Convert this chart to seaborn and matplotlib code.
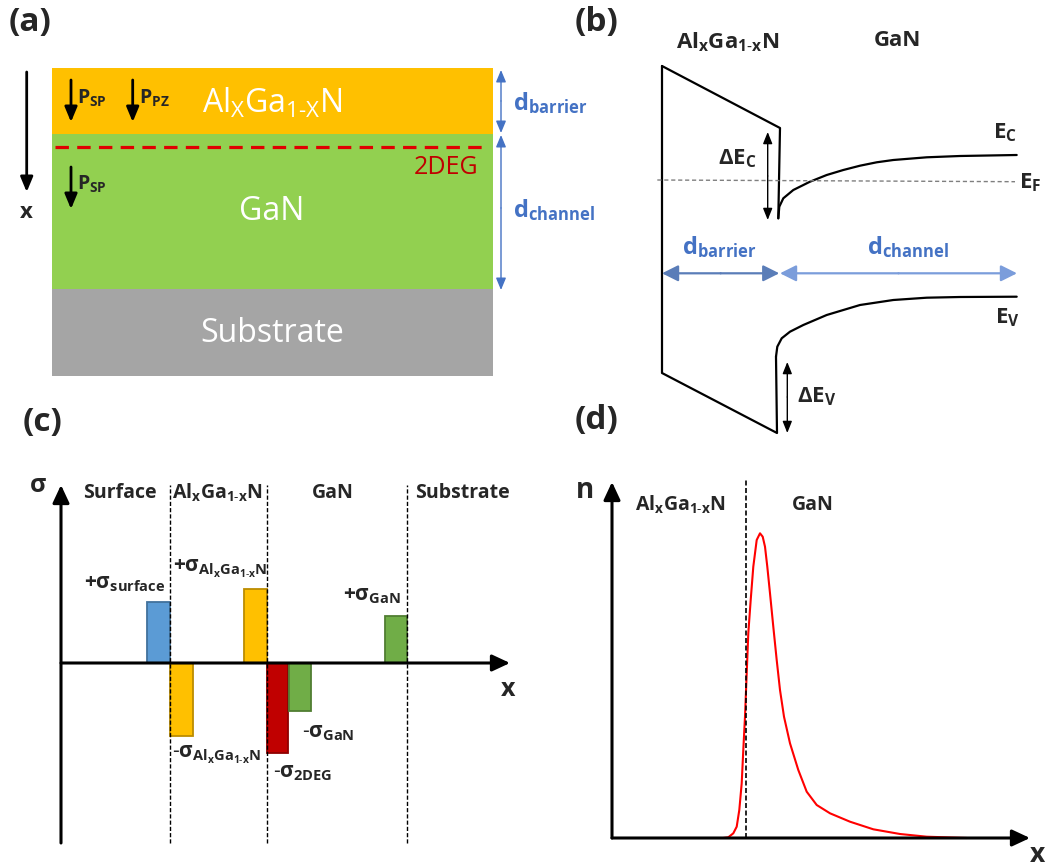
import matplotlib
matplotlib.use('Agg')
import matplotlib.pyplot as plt
import seaborn as sns

sns.set_style('white')
plt.rcParams['font.family'] = ['Open Sans', 'DejaVu Sans']
plt.rcParams['mathtext.fontset'] = 'custom'
plt.rcParams['mathtext.rm'] = 'Open Sans'
plt.rcParams['mathtext.bf'] = 'Open Sans:bold'
plt.rcParams['mathtext.it'] = 'Open Sans:italic'
plt.rcParams['mathtext.sf'] = 'Open Sans'

# ---- (a) layer stack (thickness, top to bottom)
layer_names = ['barrier', 'channel', 'substrate']
layer_thick = [6.6, 15.5, 8.7]
layer_colors = ['#FFC000', '#92D050', '#A5A5A5']
stack_width = 44.1
twodeg_depth = 7.9

# ---- (b) band diagram (x, energy relative to E_F)
ec_algan_x = [0.0, 11.8, 11.63]
ec_algan_e = [11.4, 5.2, -3.83]
ec_gan_x = [11.63, 11.73, 12.13, 13.13, 14.8, 16.47, 18.13, 19.8, 21.47, 23.13, 26.47, 29.8, 35.47]
ec_gan_e = [-3.83, -2.67, -1.83, -1.0, -0.17, 0.5, 1.0, 1.43, 1.77, 2.0, 2.27, 2.4, 2.5]
ev_algan_x = [0.0, 0.0, 11.5, 11.4]
ev_algan_e = [11.4, -19.3, -25.3, -17.67]
ev_gan_x = [11.4, 11.53, 11.97, 12.8, 14.13, 16.47, 19.8, 23.13, 26.47, 29.8, 35.47]
ev_gan_e = [-17.67, -16.67, -15.83, -15.17, -14.5, -13.5, -12.5, -12.0, -11.77, -11.7, -11.67]
ef_x = [-0.47, 35.3]
ef_e = [0.0, -0.17]
d_barrier = [0.0, 11.73]
d_channel = [11.8, 35.5]

# ---- (c) sheet charges
sigma_left = [8.6, 10.9, 18.3, 20.6, 22.8, 32.4]
sigma_right = [10.9, 13.2, 20.6, 22.7, 25.0, 34.6]
sigma_value = [6.1, -7.3, 7.4, -9.0, -4.8, 4.7]
sigma_colors = ['#5B9BD5', '#FFC000', '#FFC000', '#C00000', '#70AD47', '#70AD47']
sigma_edges = ['#41719C', '#BC8C00', '#BC8C00', '#8F0000', '#507E32', '#507E32']
region_bounds = [10.9, 20.6, 34.6]
region_names = ['Surface', r'$\mathbf{Al_xGa_{1\text{-}x}N}$', 'GaN', 'Substrate']
region_x = [5.9, 15.6, 27.2, 40.1]

# ---- (d) electron density
n_x = [11.13, 11.63, 12.13, 12.47, 12.73, 12.97, 13.13, 13.30, 13.47, 13.63, 13.87, 14.13,
       14.47, 14.80, 15.07, 15.30, 15.53, 15.80, 16.13, 16.47, 16.80, 17.20, 17.80, 18.63,
       19.47, 20.47, 21.80, 23.80, 26.13, 28.80, 31.47, 35.47]
n_y = [0.0, 0.07, 0.47, 1.13, 2.8, 5.47, 8.8, 12.13, 16.47, 20.47, 23.8, 27.13,
       29.8, 30.47, 30.13, 29.13, 27.13, 24.47, 21.13, 17.8, 14.8, 12.13, 9.47, 6.8,
       4.63, 3.3, 2.47, 1.63, 0.87, 0.4, 0.13, 0.0]
interface_x = 13.4

W, H = 1050, 867
fig = plt.figure(figsize=(W / 100, H / 100), dpi=100)


def panel(box, xlim, ylim):
    l, t, r, b = box
    ax = fig.add_axes([l / W, 1 - b / H, (r - l) / W, (b - t) / H])
    ax.set_xlim(xlim)
    ax.set_ylim(ylim)
    ax.axis('off')
    ax.patch.set_alpha(0)
    return ax


def arrow(ax, p0, p1, color='black', lw=2.0, style='-|>', hl=0.6, hw=0.25, ms=15):
    ax.annotate('', xy=p1, xytext=p0,
                arrowprops=dict(arrowstyle=f'{style},head_length={hl},head_width={hw}',
                                color=color, lw=lw, mutation_scale=ms,
                                shrinkA=0, shrinkB=0))


blue = '#4472C4'
alx = r'Al_xGa_{1\text{-}x}N'

# ================= (a)
ax = panel((0, 55, 530, 400), (-5.2, 47.8), (33.2, -1.3))
bottom = 0
for th, c in zip(layer_thick, layer_colors):
    ax.bar(stack_width / 2, th, width=stack_width, bottom=bottom, color=c, edgecolor='none')
    bottom += th
ax.plot([0.3, 43.5], [twodeg_depth, twodeg_depth], color='#E00000', lw=2.3, dashes=(4.2, 2.6))
ax.text(42.6, 10.0, '2DEG', color='#C00000', fontsize=18, ha='right', va='center')
ax.text(22.0, 3.5, r'$\mathrm{Al_XGa_{1\text{-}X}N}$', color='white', fontsize=23,
        ha='center', va='center')
ax.text(22.0, 14.3, 'GaN', color='white', fontsize=23, ha='center', va='center')
ax.text(22.0, 26.5, 'Substrate', color='white', fontsize=23, ha='center', va='center')
arrow(ax, (1.9, 1.2), (1.9, 5.4))
arrow(ax, (8.07, 1.2), (8.07, 5.4))
arrow(ax, (1.9, 9.9), (1.9, 14.1))
ax.text(2.5, 3.0, r'$\mathbf{P_{SP}}$', fontsize=14, va='center')
ax.text(8.7, 3.0, r'$\mathbf{P_{PZ}}$', fontsize=14, va='center')
ax.text(2.5, 11.6, r'$\mathbf{P_{SP}}$', fontsize=14, va='center')
arrow(ax, (-2.53, 0.4), (-2.53, 12.4))
ax.text(-2.53, 14.4, 'x', fontsize=16, fontweight='bold', ha='center', va='center')
arrow(ax, (44.9, 3.3), (44.9, 0.2), color=blue, lw=1.0, ms=12)
arrow(ax, (44.9, 3.3), (44.9, 6.5), color=blue, lw=1.0, ms=12)
arrow(ax, (44.9, 14.0), (44.9, 6.7), color=blue, lw=1.0, ms=12)
arrow(ax, (44.9, 14.0), (44.9, 22.2), color=blue, lw=1.0, ms=12)
ax.text(46.1, 3.5, r'$\mathbf{d_{barrier}}$', color=blue, fontsize=17, va='center')
ax.text(46.1, 14.2, r'$\mathbf{d_{channel}}$', color=blue, fontsize=17, va='center')

# ================= (b)
ax = panel((600, 55, 1050, 450), (-6.2, 38.8), (-27.0, 12.5))
for xs, es in [(ec_algan_x, ec_algan_e), (ec_gan_x, ec_gan_e),
               (ev_algan_x, ev_algan_e), (ev_gan_x, ev_gan_e)]:
    sns.lineplot(x=xs, y=es, ax=ax, sort=False, estimator=None, color='black', lw=1.6)
ax.plot(ef_x, ef_e, color='#7F7F7F', lw=1.0, dashes=(3, 2))
arrow(ax, (10.57, 0.4), (10.57, 4.8), lw=1.0, hl=0.5, hw=0.2, ms=14)
arrow(ax, (10.57, 0.4), (10.57, -4.0), lw=1.0, hl=0.5, hw=0.2, ms=14)
arrow(ax, (12.53, -21.7), (12.53, -18.2), lw=1.0, hl=0.5, hw=0.2, ms=14)
arrow(ax, (12.53, -21.7), (12.53, -25.3), lw=1.0, hl=0.5, hw=0.2, ms=14)
mid = sum(d_barrier) / 2
arrow(ax, (mid, -9.33), (d_barrier[0], -9.33), color='#5A7DB8', lw=1.6, hl=0.7, hw=0.35, ms=14)
arrow(ax, (mid, -9.33), (d_barrier[1], -9.33), color='#5A7DB8', lw=1.6, hl=0.7, hw=0.35, ms=14)
mid = sum(d_channel) / 2
arrow(ax, (mid, -9.33), (d_channel[0], -9.33), color='#7B9DDB', lw=1.6, hl=0.7, hw=0.35, ms=14)
arrow(ax, (mid, -9.33), (d_channel[1], -9.33), color='#7B9DDB', lw=1.6, hl=0.7, hw=0.35, ms=14)
ax.text(5.75, -6.7, r'$\mathbf{d_{barrier}}$', color=blue, fontsize=17, ha='center', va='center')
ax.text(24.6, -6.7, r'$\mathbf{d_{channel}}$', color=blue, fontsize=17, ha='center', va='center')
ax.text(6.55, 13.8, rf'$\mathbf{{{alx}}}$', fontsize=16, ha='center', va='center')
ax.text(23.5, 14.0, 'GaN', fontsize=16, fontweight='bold', ha='center', va='center')
ax.text(33.1, 4.7, r'$\mathbf{E_C}$', fontsize=16, va='center')
ax.text(35.7, -0.3, r'$\mathbf{E_F}$', fontsize=16, va='center')
ax.text(33.3, -13.8, r'$\mathbf{E_V}$', fontsize=16, va='center')
ax.text(9.5, 2.1, r'$\mathbf{\Delta E_C}$', fontsize=16, ha='right', va='center')
ax.text(13.5, -21.7, r'$\mathbf{\Delta E_V}$', fontsize=16, va='center')

# ================= (c)
ax = panel((0, 470, 530, 867), (-6.1, 46.9), (-20.4, 19.3))
for l, r, v, c, e in zip(sigma_left, sigma_right, sigma_value, sigma_colors, sigma_edges):
    ax.bar(l, v, width=r - l, align='edge', color=c, edgecolor=e, lw=1.3, zorder=2)
for xb in region_bounds:
    ax.plot([xb, xb], [-18.0, 17.8], color='black', lw=1.0, dashes=(3, 1.5), zorder=3)
arrow(ax, (0, -18.0), (0, 17.8), lw=2.2, hl=0.6, hw=0.28, ms=18)
arrow(ax, (0, 0), (44.9, 0), lw=2.2, hl=0.6, hw=0.28, ms=18)
ax.text(-2.3, 17.8, r'$\mathbf{\sigma}$', fontsize=18, ha='center', va='center')
ax.text(44.7, -2.7, 'x', fontsize=18, fontweight='bold', ha='center', va='center')
for name, xc in zip(region_names, region_x):
    ax.text(xc, 17.0, name, fontsize=14, fontweight='bold', ha='center', va='center')
fs = 15
ax.text(6.35, 8.0, r'$\mathbf{+\sigma_{surface}}$', fontsize=fs, ha='center', va='center')
ax.text(15.9, 9.4, rf'$\mathbf{{+\sigma_{{{alx}}}}}$', fontsize=fs, ha='center', va='center')
ax.text(15.6, -9.2, rf'$\mathbf{{\text{{-}}\sigma_{{{alx}}}}}$', fontsize=fs, ha='center', va='center')
ax.text(24.2, -10.9, r'$\mathbf{\text{-}\sigma_{2DEG}}$', fontsize=fs, ha='center', va='center')
ax.text(26.7, -6.9, r'$\mathbf{\text{-}\sigma_{GaN}}$', fontsize=fs, ha='center', va='center')
ax.text(31.1, 6.8, r'$\mathbf{+\sigma_{GaN}}$', fontsize=fs, ha='center', va='center')

# ================= (d)
ax = panel((560, 460, 1050, 867), (-5.2, 43.8), (-2.9, 37.8))
sns.lineplot(x=n_x, y=n_y, ax=ax, sort=False, estimator=None, color='#FF0000', lw=1.5)
ax.plot([interface_x, interface_x], [0, 35.8], color='black', lw=1.2, dashes=(3, 1.5))
arrow(ax, (0, 0), (0, 35.6), lw=2.2, hl=0.6, hw=0.28, ms=18)
arrow(ax, (0, 0), (41.8, 0), lw=2.2, hl=0.6, hw=0.28, ms=18)
ax.text(-2.7, 34.8, 'n', fontsize=20, fontweight='bold', ha='center', va='center')
ax.text(42.6, -1.7, 'x', fontsize=19, fontweight='bold', ha='center', va='center')
ax.text(6.8, 33.3, rf'$\mathbf{{{alx}}}$', fontsize=14, ha='center', va='center')
ax.text(20.1, 33.3, 'GaN', fontsize=14, fontweight='bold', ha='center', va='center')

for lab, (px, py) in zip(['(a)', '(b)', '(c)', '(d)'],
                         [(30, 22), (597, 22), (43, 422), (597, 420)]):
    fig.text(px / W, 1 - py / H, lab, fontsize=24, fontweight='bold', ha='center', va='center')

fig.savefig('out.png', dpi=100)
